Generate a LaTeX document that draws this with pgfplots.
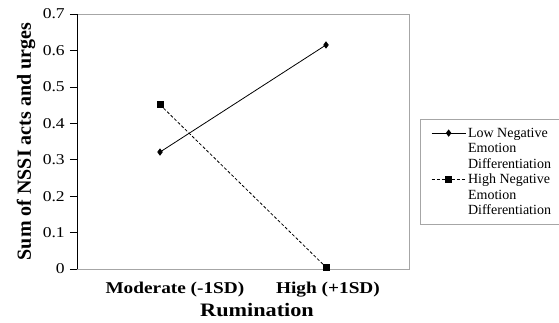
\documentclass[border=0pt]{standalone}
\usepackage{pgfplots}
\pgfplotsset{compat=1.18}
\usepackage{fontspec}
\setmainfont{Liberation Serif}
\newcommand{\lf}{\fontsize{14}{14}\selectfont}
\newcommand{\rs}{\rule[-4.5pt]{0pt}{14.5pt}}
\newcommand{\rsb}{\rule[-14pt]{0pt}{14.5pt}}
\newcommand{\rse}{\rule[-8pt]{0pt}{14.5pt}}
\begin{document}
\begin{tikzpicture}
\path[use as bounding box] (-77pt,-53pt) rectangle (482pt,269pt);
\begin{axis}[
  at={(0pt,0pt)}, anchor=south west,
  scale only axis,
  width=332pt, height=255pt,
  xmin=-0.5, xmax=1.5,
  ymin=0, ymax=0.7,
  xtick={0.09,1.012},
  xticklabels={Moderate (-1SD), High (+1SD)},
  x tick label style={font=\fontsize{16.5}{18}\selectfont\bfseries, xscale=1.17, yshift=-3pt},
  ytick={0,0.1,...,0.7},
  y tick label style={font=\fontsize{15}{17}\selectfont, xscale=1.17, xshift=-1pt},
  /pgf/number format/assume math mode=true,
  yticklabel style={/pgf/number format/fixed, /pgf/number format/precision=1},
  axis line style={gray!70, line width=0.8pt},
  major x tick style={draw=none},
  ytick pos=left,
  tick align=outside,
  major tick length=7pt,
  y tick style={black, line width=0.6pt},
  xlabel={Rumination},
  ylabel={Sum of NSSI acts and urges},
  xlabel style={font=\fontsize{19}{21}\selectfont\bfseries, xscale=1.17, yshift=1pt, xshift=12pt},
  ylabel style={font=\fontsize{20}{22}\selectfont\bfseries, yshift=0pt},
  legend style={at={(1.033,0.588)}, anchor=north west, draw=gray!70, line width=0.6pt,
    inner xsep=11pt, inner ysep=6pt, row sep=0pt},
  legend cell align=left,
  legend image code/.code={
    \draw[#1] (0pt,0pt) -- (34pt,0pt);
    \path[#1, solid] plot coordinates {(17pt,0pt)};
  },
  clip=false,
]
\draw[black, line width=0.8pt] (rel axis cs:0,0) -- (rel axis cs:0,1);
\addplot[black, line width=0.8pt, mark=diamond*, mark size=3pt, mark options={solid}]
  coordinates {(0,0.321) (1,0.615)};
\addlegendentry{\lf\rs Low Negative}
\addlegendimage{empty legend}
\addlegendentry{\lf\rs Emotion}
\addlegendimage{empty legend}
\addlegendentry{\lf\rsb Differentiation}
\addplot[black, line width=0.8pt, densely dashed, mark=square*, mark size=3pt, mark options={solid}]
  coordinates {(0,0.451) (1,0.005)};
\addlegendentry{\lf\rs High Negative}
\addlegendimage{empty legend}
\addlegendentry{\lf\rs Emotion}
\addlegendimage{empty legend}
\addlegendentry{\lf\rse Differentiation}
\end{axis}
\end{tikzpicture}
\end{document}
